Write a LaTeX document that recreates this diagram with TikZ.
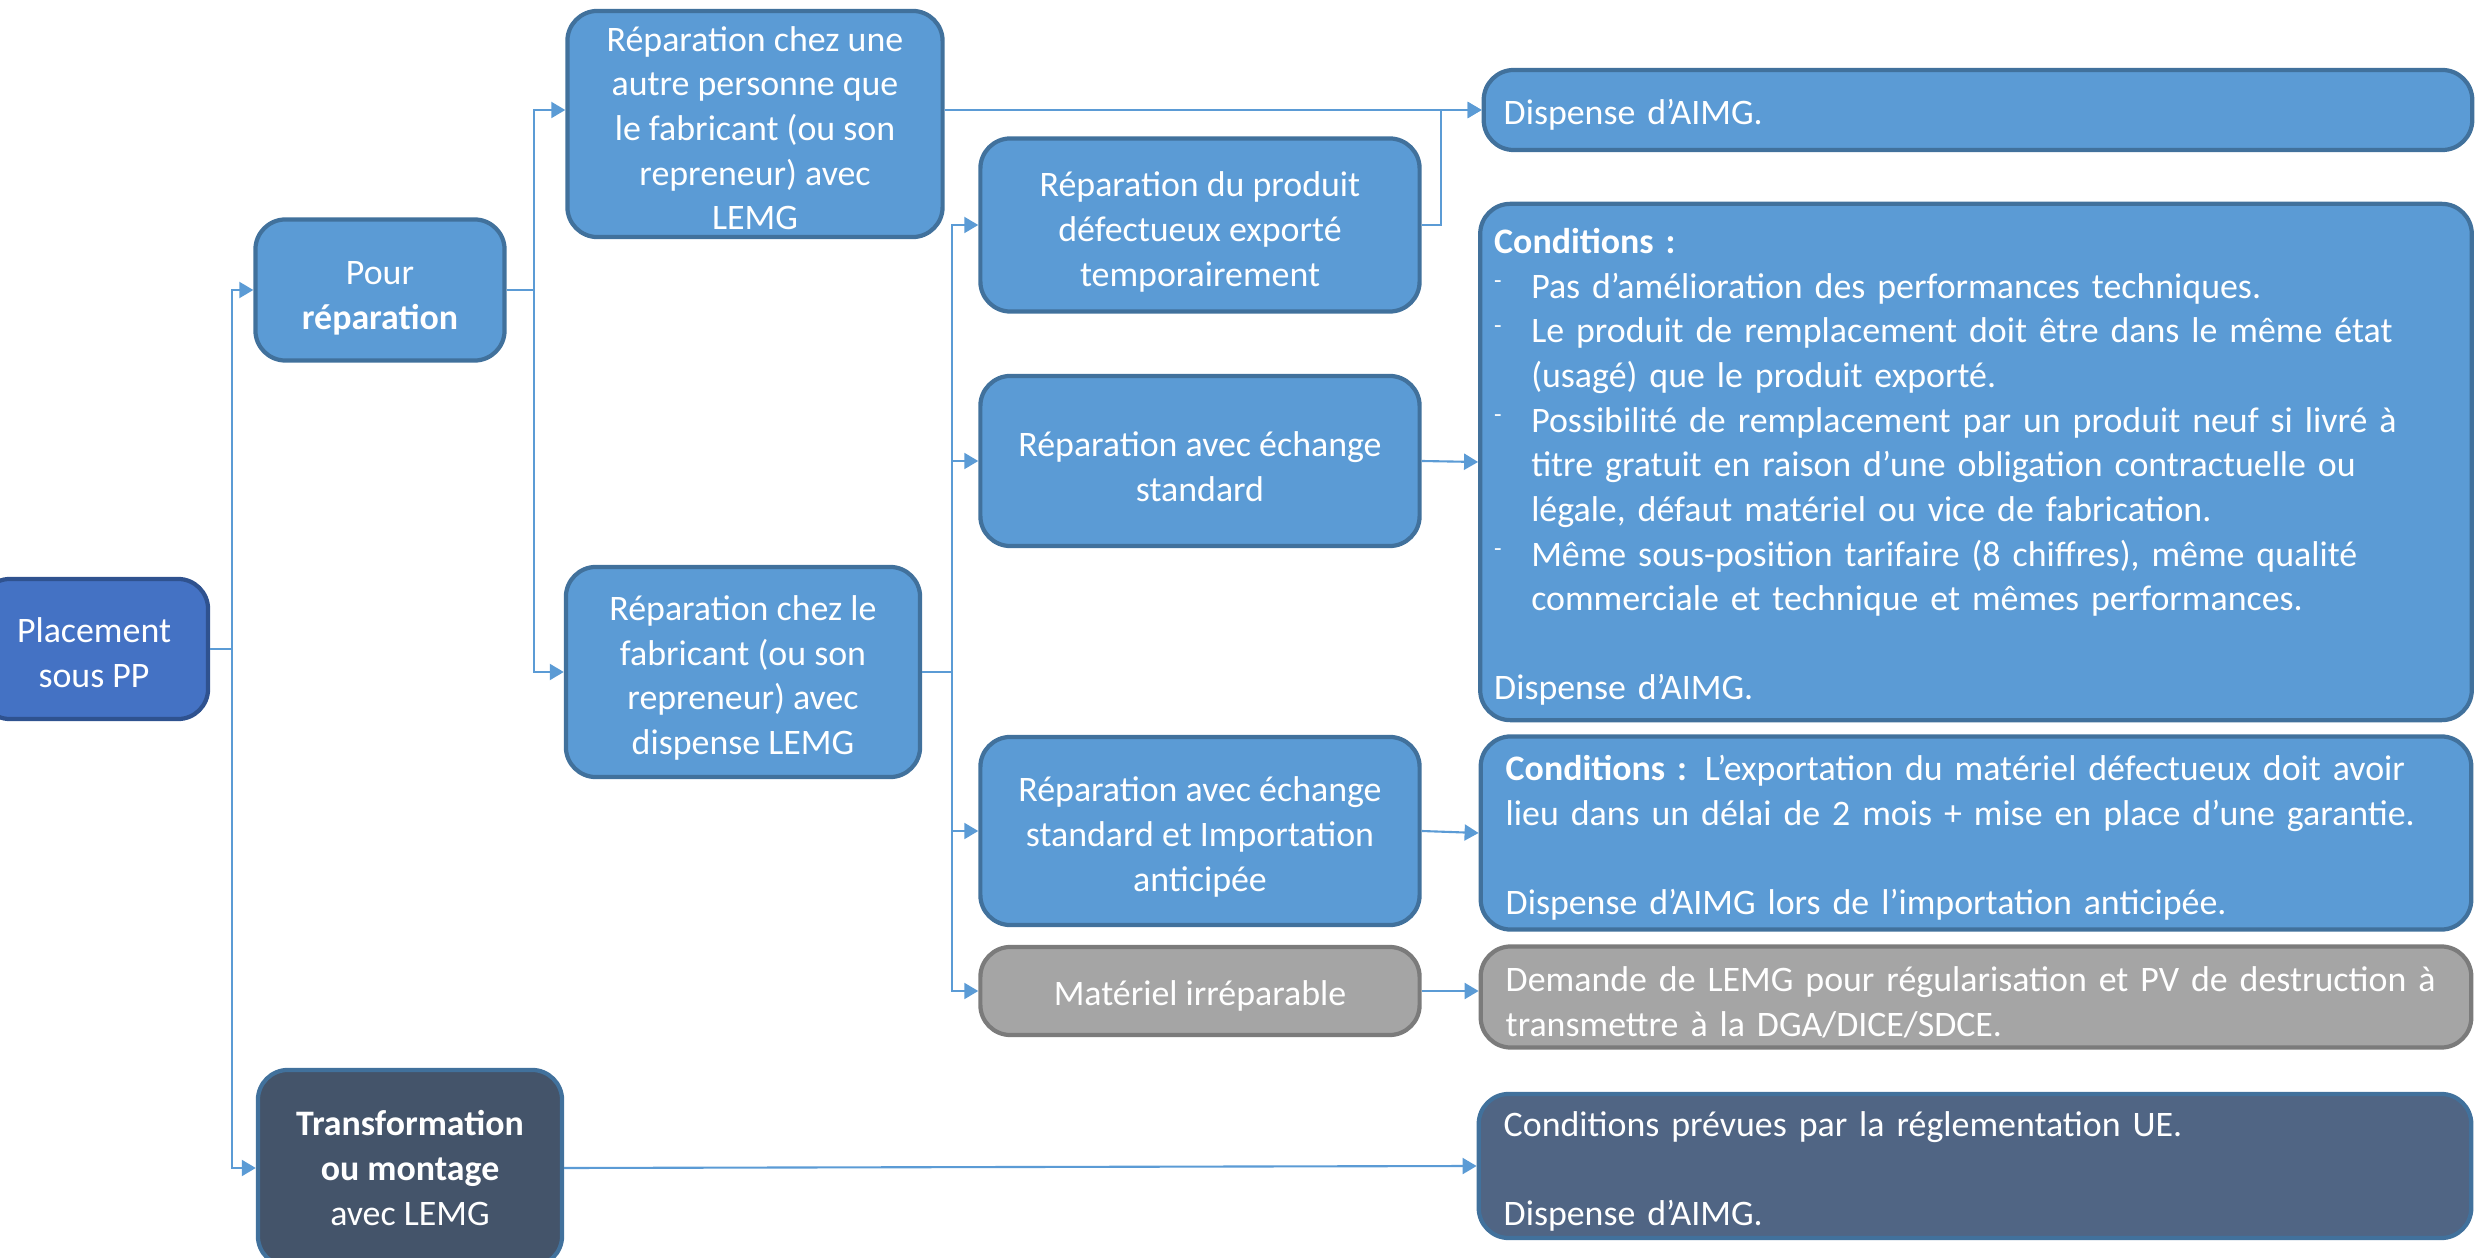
\documentclass[tikz,border=0pt]{standalone}
\usepackage{fontspec}
\setmainfont{Carlito}
\usetikzlibrary{arrows.meta,positioning,calc}

\definecolor{boxfill}{HTML}{5B9BD5}
\definecolor{boxline}{HTML}{41719C}
\definecolor{placefill}{HTML}{4472C4}
\definecolor{placeline}{HTML}{2F528F}
\definecolor{greyfill}{HTML}{A5A5A5}
\definecolor{greyline}{HTML}{7B7B7B}
\definecolor{darkfill}{HTML}{44546A}
\definecolor{slatefill}{HTML}{506584}
\definecolor{linkcol}{HTML}{5B9BD5}

\newcommand\dashitem{\makebox[0.37cm][l]{\raisebox{0.55ex}{\scriptsize -}}}
\newcommand\hangin{\hspace*{0.37cm}}
\newcommand\topstrut[1]{\rule{0pt}{#1}}

\begin{document}
\begin{tikzpicture}[x=0.01cm,y=-0.01cm,>={Triangle[length=0.14cm,width=0.16cm]},
        every node/.style={font=\fontsize{10.2pt}{12.7pt}\selectfont,text=white},
        box/.style={rectangle,rounded corners=0.3cm,line width=1.2pt,draw=boxline,fill=boxfill,align=center,inner sep=0pt},
        greybox/.style={box,draw=greyline,fill=greyfill},
        infobox/.style={box,align=left,inner xsep=0.2cm,text width=#1,execute at begin node={\topstrut{10pt}}},
        link/.style={->,draw=linkcol,line width=0.6pt}]
        \useasboundingbox (0,0) rectangle (2477,1258);
        \clip (0,0) rectangle (2477,1258);

        % left column
        \node[box,draw=placeline,fill=placefill,minimum width=2.28cm,minimum height=1.40cm] (place) at (94,649) {\topstrut{9pt}Placement\\sous PP};
        \node[box,minimum width=2.49cm,minimum height=1.41cm] (pour) at (380,290) {\topstrut{11.1pt}Pour\\\textbf{réparation}};
        \node[box,fill=darkfill,minimum width=3.04cm,minimum height=1.96cm] (transf) at (410,1168) {\textbf{Transformation}\\\textbf{ou montage}\\avec LEMG};

        % second column
        \node[box,minimum width=3.75cm,minimum height=2.26cm] (other) at (755,124) {\topstrut{9.4pt}Réparation chez une\\autre personne que\\le fabricant (ou son\\repreneur) avec\\LEMG};
        \node[box,minimum width=3.54cm,minimum height=2.10cm] (maker) at (743,672) {\topstrut{10.4pt}Réparation chez le\\fabricant (ou son\\repreneur) avec\\dispense LEMG};

        % third column
        \node[box,minimum width=4.39cm,minimum height=1.73cm] (temp) at (1200,225) {\topstrut{11pt}Réparation du produit\\défectueux exporté\\temporairement};
        \node[box,minimum width=4.39cm,minimum height=1.70cm] (std) at (1200,461) {\topstrut{10.4pt}Réparation avec échange\\standard};
        \node[box,minimum width=4.39cm,minimum height=1.88cm] (antic) at (1200,831) {\topstrut{10.4pt}Réparation avec échange\\standard et Importation\\anticipée};
        \node[greybox,minimum width=4.39cm,minimum height=0.88cm] (irrep) at (1200,991) {\topstrut{10pt}Matériel irréparable};

        % right column
        \node[infobox=9.48cm,minimum height=0.80cm] (disp) at (1978,110) {Dispense d’AIMG.};
        \node[infobox=9.63cm,inner xsep=0.14cm,minimum height=5.16cm] (cond) at (1976,462) {\textbf{Conditions~:}\\
          \dashitem Pas d’amélioration des performances techniques.\\
          \dashitem Le produit de remplacement doit être dans le même état\\
          \hangin (usagé) que le produit exporté.\\
          \dashitem Possibilité de remplacement par un produit neuf si livré à\\
          \hangin titre gratuit en raison d’une obligation contractuelle ou\\
          \hangin légale, défaut matériel ou vice de fabrication.\\
          \dashitem Même sous-position tarifaire (8 chiffres), même qualité\\
          \hangin commerciale et technique et mêmes performances.\\[0.446cm]
          Dispense d’AIMG.};
        \node[infobox=9.40cm,inner xsep=0.25cm,minimum height=1.93cm] (condb) at (1976,833) {\textbf{Conditions~:} L’exportation du matériel défectueux doit avoir\\
          lieu dans un délai de 2 mois + mise en place d’une garantie.\\[0.446cm]
          Dispense d’AIMG lors de l’importation anticipée.};
        \node[infobox=9.40cm,inner xsep=0.25cm,draw=greyline,fill=greyfill,minimum height=1.01cm] (ask) at (1976,997) {Demande de LEMG pour régularisation et PV de destruction à\\
          transmettre à la DGA/DICE/SDCE.};
        \node[infobox=9.42cm,inner xsep=0.25cm,fill=slatefill,minimum height=1.44cm] (condue) at (1975,1166) {Conditions prévues par la réglementation UE.\\[0.446cm]
          Dispense d’AIMG.};

        % connectors
        \draw[link] (place.east) -- ++(22,0) |- (pour.west);
        \draw[link] (place.east) -- ++(22,0) |- (transf.west);
        \draw[link] (pour.east) -- ++(27,0) |- (other.west |- disp.west);
        \draw[link] (pour.east) -- ++(27,0) |- (maker.west);
        \draw[link] (other.east |- disp.west) -- (disp.west);
        \draw[link] (temp.east) -- ++(19,0) |- (disp.west);
        \draw[link] (maker.east) -- ++(30,0) |- (temp.west);
        \draw[link] (maker.east) -- ++(30,0) |- (std.west);
        \draw[link] (maker.east) -- ++(30,0) |- (antic.west);
        \draw[link] (maker.east) -- ++(30,0) |- (irrep.west);
        \draw[link] (std.east) -- (cond.west);
        \draw[link] (antic.east) -- (condb.west);
        \draw[link] (irrep.east) -- (irrep.east -| ask.west);
        \draw[link] (transf.east) -- (condue.west);
\end{tikzpicture}
\end{document}
